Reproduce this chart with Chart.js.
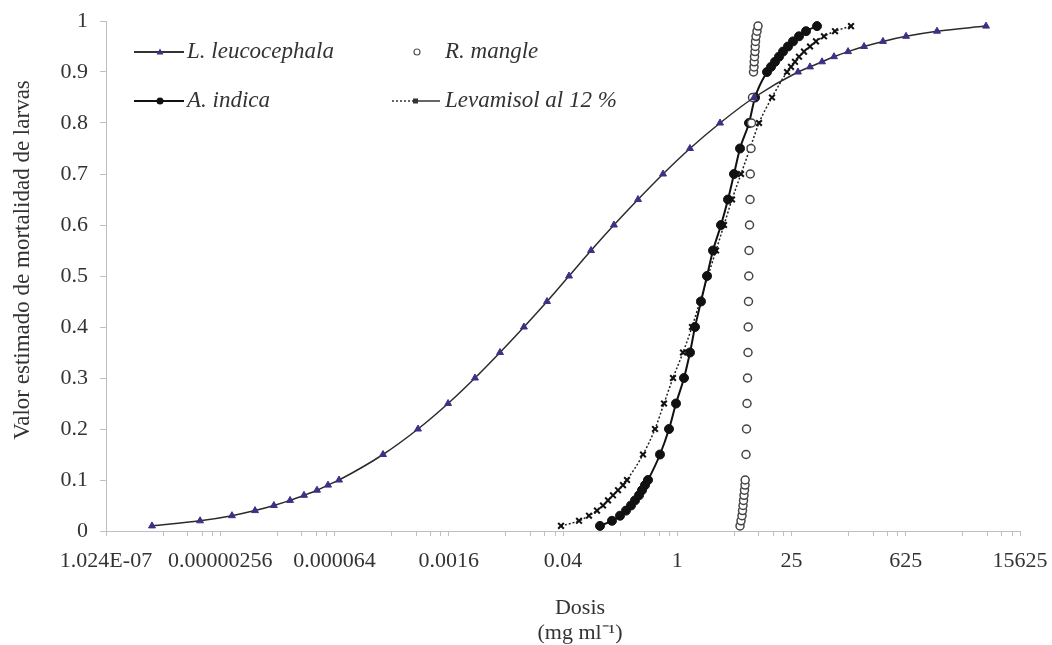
<!DOCTYPE html>
<html>
<head>
<meta charset="utf-8">
<script src="https://cdn.jsdelivr.net/npm/chart.js@4.4.1/dist/chart.umd.min.js"></script>
<style>
html,body{margin:0;padding:0;background:#fff;}
#wrap{width:1052px;height:645px;}
</style>
</head>
<body>
<div id="wrap"><canvas id="c" width="1052" height="645"></canvas></div>
<script>
// Estimated mortality probabilities (shared y values)
const probs = [0.01,0.02,0.03,0.04,0.05,0.06,0.07,0.08,0.09,0.1,0.15,0.2,0.25,0.3,0.35,0.4,0.45,0.5,0.55,0.6,0.65,0.7,0.75,0.8,0.85,0.9,0.91,0.92,0.93,0.94,0.95,0.96,0.97,0.98,0.99];

// Doses (mg/ml), one per probability
const doseLeucocephala = [3.74e-7,1.45e-6,3.56e-6,6.82e-6,1.16e-5,1.83e-5,2.71e-5,3.91e-5,5.33e-5,7.27e-5,2.51e-4,6.73e-4,1.57e-3,3.35e-3,6.78e-3,0.0133,0.0255,0.0474,0.0881,0.168,0.331,0.670,1.43,3.34,8.70,30.0,42.1,59.1,82.8,123,193,329,630,1508,6000];
const doseMangle = [5.86,6.03,6.20,6.29,6.38,6.47,6.56,6.65,6.75,6.78,6.94,7.04,7.14,7.24,7.34,7.38,7.44,7.50,7.55,7.66,7.77,7.83,7.99,8.10,8.33,8.57,8.69,8.74,8.82,8.94,8.99,9.07,9.20,9.46,9.73];
const doseIndica = [0.1134,0.159,0.1993,0.236,0.2716,0.3041,0.3404,0.3704,0.4031,0.4386,0.6151,0.7926,0.9654,1.209,1.432,1.649,1.952,2.312,2.738,3.43,4.178,4.947,5.859,7.549,8.942,12.54,14.03,15.71,17.58,19.68,22.65,26.09,30.88,37.62,51.29];
const doseLevamisol = [0.0378,0.0628,0.0832,0.1042,0.1235,0.1421,0.1636,0.1884,0.2169,0.2427,0.381,0.5342,0.6884,0.8871,1.176,1.515,1.898,2.378,2.98,3.733,4.677,6.026,7.767,10.01,14.43,22.03,24.65,27.59,30.88,35.55,42.11,49.86,62.46,85.15,133.7];

// Axis ticks
const xTickValues = [1.024e-7,2.56e-6,6.4e-5,0.0016,0.04,1,25,625,15625];
const xTickLabels = ['1.024E-07','0.00000256','0.000064','0.0016','0.04','1','25','625','15625'];
const xMinorMultiples = [5,10,15,20];

const seriesNames = ['L. leucocephala','R. mangle','A. indica','Levamisol al 12 %'];

function pts(doses){ return doses.map((d,i)=>({x:d,y:probs[i]})); }

const FONT = '"Liberation Serif", "Times New Roman", serif';
const TXT = '#333333';
const AXIS = '#bfbfbf';

const overlay = {
  id:'overlay',
  afterDraw(chart){
    const ctx = chart.ctx;
    ctx.save();
    ctx.fillStyle = TXT;
    ctx.textAlign='center'; ctx.textBaseline='middle';
    // y title
    ctx.font = '23px ' + FONT;
    ctx.save();
    ctx.translate(23, 260);
    ctx.rotate(-Math.PI/2);
    ctx.fillText('Valor estimado de mortalidad de larvas',0,0);
    ctx.restore();
    // x title
    ctx.font = '22px ' + FONT;
    ctx.fillText('Dosis', 580, 608);
    ctx.fillText('(mg ml\u207B\u00B9)', 580, 633);

    // legend
    ctx.font = 'italic 23px ' + FONT;
    ctx.textAlign='left';
    const r1 = 52, r2 = 101;
    // L. leucocephala
    ctx.strokeStyle='#333'; ctx.lineWidth=2; ctx.setLineDash([]);
    ctx.beginPath(); ctx.moveTo(134,r1); ctx.lineTo(184,r1); ctx.stroke();
    ctx.fillStyle='#3f2f85';
    ctx.beginPath(); ctx.moveTo(160,r1-3.5); ctx.lineTo(163.5,r1+2.5); ctx.lineTo(156.5,r1+2.5); ctx.closePath(); ctx.fill();
    ctx.fillStyle=TXT; ctx.fillText(seriesNames[0], 187, r1);
    // R. mangle
    ctx.strokeStyle='#555'; ctx.lineWidth=1.2;
    ctx.beginPath(); ctx.arc(417,r1,3,0,Math.PI*2); ctx.stroke();
    ctx.fillText(seriesNames[1], 445, r1);
    // A. indica
    ctx.strokeStyle='#111'; ctx.lineWidth=2;
    ctx.beginPath(); ctx.moveTo(134,r2); ctx.lineTo(184,r2); ctx.stroke();
    ctx.fillStyle='#111';
    ctx.beginPath(); ctx.arc(160,r2,3.5,0,Math.PI*2); ctx.fill();
    ctx.fillStyle=TXT; ctx.fillText(seriesNames[2], 187, r2);
    // Levamisol
    ctx.strokeStyle='#333'; ctx.lineWidth=1.5; ctx.setLineDash([2,2]);
    ctx.beginPath(); ctx.moveTo(392,r2); ctx.lineTo(414,r2); ctx.stroke();
    ctx.setLineDash([]);
    ctx.beginPath(); ctx.moveTo(418,r2); ctx.lineTo(440,r2); ctx.stroke();
    ctx.fillStyle='#333'; ctx.fillRect(413,r2-2.5,5,5);
    ctx.fillStyle=TXT; ctx.fillText(seriesNames[3], 445, r2);
    ctx.restore();
  }
};

new Chart(document.getElementById('c'), {
  type:'scatter',
  data:{
    datasets:[
      {label:seriesNames[0], data:pts(doseLeucocephala), showLine:true, cubicInterpolationMode:'monotone',
       borderColor:'#2b2b2b', borderWidth:1.5, pointStyle:'triangle', pointRadius:4,
       pointBackgroundColor:'#3f2f85', pointBorderColor:'#3f2f85', pointBorderWidth:1},
      {label:seriesNames[1], data:pts(doseMangle), showLine:false,
       pointStyle:'circle', pointRadius:4, pointBackgroundColor:'#ffffff', pointBorderColor:'#444', pointBorderWidth:1.5},
      {label:seriesNames[2], data:pts(doseIndica), showLine:true, cubicInterpolationMode:'monotone',
       borderColor:'#111', borderWidth:2, pointStyle:'circle', pointRadius:4.5,
       pointBackgroundColor:'#111', pointBorderColor:'#111', pointBorderWidth:1},
      {label:seriesNames[3], data:pts(doseLevamisol), showLine:true, cubicInterpolationMode:'monotone',
       borderColor:'#222', borderWidth:1.5, borderDash:[2,2], pointStyle:'crossRot', pointRadius:4,
       pointBackgroundColor:'#111', pointBorderColor:'#111', pointBorderWidth:2}
    ]
  },
  options:{
    responsive:false, animation:false, devicePixelRatio:1,
    layout:{padding:{left:0,right:32,top:21,bottom:0}},
    plugins:{legend:{display:false}, tooltip:{enabled:false}},
    scales:{
      x:{
        type:'logarithmic', min:xTickValues[0], max:xTickValues[xTickValues.length-1],
        afterBuildTicks(scale){
          const t=[];
          xTickValues.forEach((v,i)=>{
            t.push({value:v, lbl:xTickLabels[i]});
            if(i<xTickValues.length-1) xMinorMultiples.forEach(m=>t.push({value:v*m, lbl:''}));
          });
          scale.ticks=t;
        },
        afterFit(scale){ scale.height=114; scale.paddingLeft=0; scale.paddingRight=0; },
        ticks:{autoSkip:false, maxRotation:0, minRotation:0, padding:12, color:TXT,
               font:{family:FONT,size:22},
               callback(v,i,ticks){ return ticks[i].lbl || ''; }},
        grid:{drawOnChartArea:false, drawTicks:true, tickLength:5, color:AXIS},
        border:{display:true, color:AXIS, width:1}
      },
      y:{
        min:0, max:1,
        afterFit(scale){ scale.width=106; scale.paddingTop=0; scale.paddingBottom=0; },
        ticks:{stepSize:0.1, padding:12, color:TXT, font:{family:FONT,size:22},
               callback(v){ const r=Math.round(v*10)/10; return (r===0||r===1)? String(r) : r.toFixed(1); }},
        grid:{drawOnChartArea:false, drawTicks:true, tickLength:6, color:AXIS},
        border:{display:true, color:AXIS, width:1}
      }
    }
  },
  plugins:[overlay]
});
</script>
</body>
</html>
